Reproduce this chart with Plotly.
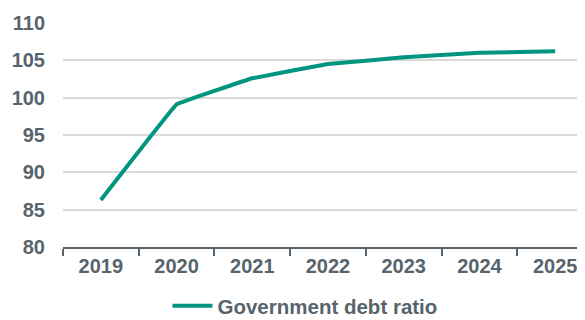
import plotly.graph_objects as go

years = ["2019", "2020", "2021", "2022", "2023", "2024", "2025"]
debt_ratio = [86.3, 99.1, 102.6, 104.5, 105.4, 106.0, 106.2]
y_ticks = [80, 85, 90, 95, 100, 105, 110]

text_color = "#58646c"
line_color = "#00957f"

# page body has an 8px default margin, so the figure is drawn 8px in from top/left;
# the reference plot area runs slightly past the right edge of the picture
W, H = 585, 312

fig = go.Figure()
fig.add_trace(go.Scatter(
    x=years, y=debt_ratio, mode="lines", name="Government debt ratio",
    line=dict(color=line_color, width=4, shape="spline", smoothing=0.1),
))

fig.update_layout(
    width=W, height=H,
    margin=dict(l=55, r=0, t=15, b=73, autoexpand=False),
    paper_bgcolor="white", plot_bgcolor="white",
    font=dict(family="Liberation Sans, Arial", size=20, color=text_color),
    showlegend=True,
    legend=dict(orientation="h", x=297 / W, xanchor="center", xref="container",
                y=14 / H, yanchor="middle", yref="container",
                font=dict(size=20.5, color=text_color, weight="bold"),
                itemwidth=40),
    xaxis=dict(
        type="category", showgrid=False, showline=True, linecolor=text_color, linewidth=2,
        ticks="outside", tickson="boundaries", ticklen=7, tickwidth=2, tickcolor=text_color,
        tickfont=dict(size=20, color=text_color, weight="bold"),
        range=[-0.5, 6.5],
    ),
    yaxis=dict(
        range=[80, 110], tickvals=y_ticks, showgrid=True, gridcolor="#d9d9d9", gridwidth=1.5,
        zeroline=False, showline=False, ticks="", ticklabelstandoff=17,
        tickfont=dict(size=20, color=text_color, weight="bold"),
    ),
)

fig.write_html("out.html")
